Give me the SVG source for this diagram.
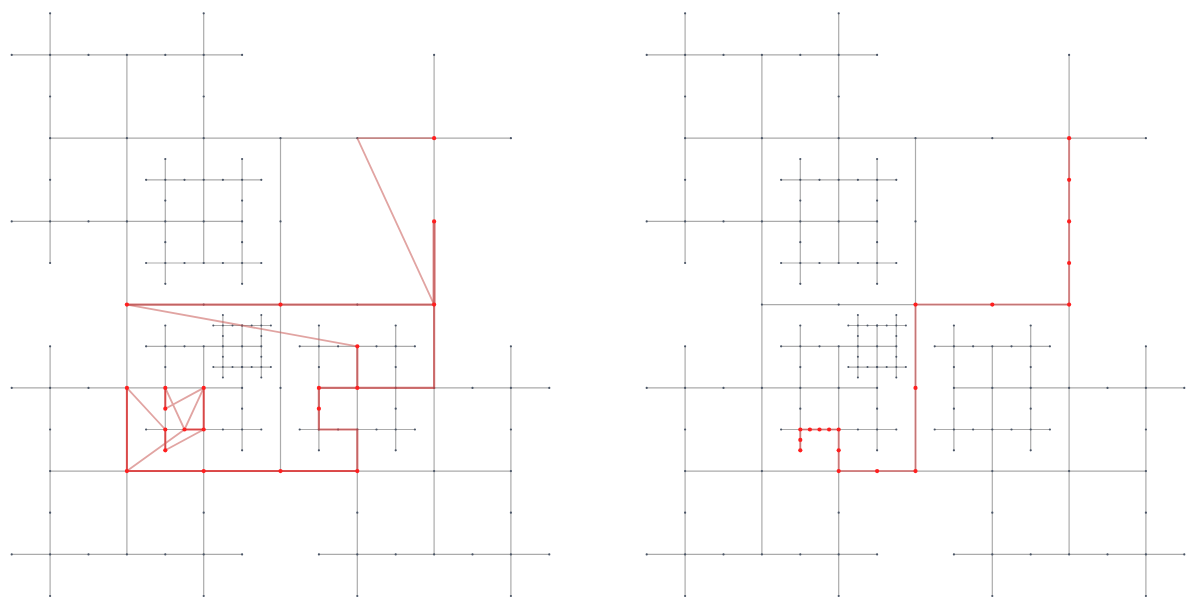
<svg xmlns="http://www.w3.org/2000/svg" xmlns:xlink="http://www.w3.org/1999/xlink" width="1193" height="606" viewBox="0 0 1193 606">
<style>
.e{stroke:#ababab;stroke-width:1.2;fill:none}
.n circle{fill:#4a5566}
.rl{fill:none;stroke:#c95a55;stroke-opacity:.55;stroke-width:1.8}
.rm{fill:none;stroke:#cc4444;stroke-opacity:.7;stroke-width:2.2}
.rb{fill:none;stroke:#e02a2a;stroke-opacity:.8;stroke-width:2}
.rr{fill:none;stroke:#d84a4a;stroke-opacity:.55;stroke-width:2}
.rn circle{fill:#ff1f1f}
</style>
<defs>
<g id="mesh">
<g id="mesh-connectors" class="e">
<path d="M126.9 54.9V554.4M434.1 54.9V554.4M50.1 138.2H510.9M50.1 471.1H510.9M280.5 138.2V471.1M126.9 304.6H434.1"/>
<path d="M50.1 13.3V263M203.7 13.3V263M11.7 54.9H242.1M11.7 221.4H242.1"/>
<path d="M165.3 159V283.8M242.1 159V283.8M146.1 179.8H261.3M146.1 263H261.3"/>
<path d="M50.1 346.3V596M203.7 346.3V596M11.7 387.9H242.1M11.7 554.4H242.1"/>
<path d="M165.3 325.5V450.3M242.1 325.5V450.3M146.1 346.3H261.3M146.1 429.5H261.3"/>
<path d="M222.9 315V377.5M261.3 315V377.5M213.3 325.5H270.9M213.3 367.1H270.9"/>
<path d="M357.3 346.3V596M510.9 346.3V596M318.9 387.9H549.3M318.9 554.4H549.3"/>
<path d="M318.9 325.5V450.3M395.7 325.5V450.3M299.7 346.3H414.9M299.7 429.5H414.9"/>
</g>
<g id="mesh-nodes" class="n">
<g id="n-top">
<circle cx="126.9" cy="54.9" r="1.1"/><circle cx="126.9" cy="138.2" r="1.1"/><circle cx="126.9" cy="221.4" r="1.1"/><circle cx="126.9" cy="304.6" r="1.1"/><circle cx="126.9" cy="387.9" r="1.1"/><circle cx="126.9" cy="471.1" r="1.1"/><circle cx="126.9" cy="554.4" r="1.1"/>
<circle cx="434.1" cy="54.9" r="1.1"/><circle cx="434.1" cy="138.2" r="1.1"/><circle cx="434.1" cy="221.4" r="1.1"/><circle cx="434.1" cy="304.6" r="1.1"/><circle cx="434.1" cy="387.9" r="1.1"/><circle cx="434.1" cy="471.1" r="1.1"/><circle cx="434.1" cy="554.4" r="1.1"/>
<circle cx="50.1" cy="138.2" r="1.1"/><circle cx="203.7" cy="138.2" r="1.1"/><circle cx="280.5" cy="138.2" r="1.1"/><circle cx="357.3" cy="138.2" r="1.1"/><circle cx="510.9" cy="138.2" r="1.1"/>
<circle cx="50.1" cy="471.1" r="1.1"/><circle cx="203.7" cy="471.1" r="1.1"/><circle cx="280.5" cy="471.1" r="1.1"/><circle cx="357.3" cy="471.1" r="1.1"/><circle cx="510.9" cy="471.1" r="1.1"/>
<circle cx="280.5" cy="221.4" r="1.1"/><circle cx="280.5" cy="304.6" r="1.1"/><circle cx="280.5" cy="387.9" r="1.1"/>
<circle cx="203.7" cy="304.6" r="1.1"/><circle cx="357.3" cy="304.6" r="1.1"/>
</g>
<g id="n-tl2">
<circle cx="50.1" cy="13.3" r="1.1"/><circle cx="50.1" cy="54.9" r="1.1"/><circle cx="50.1" cy="96.5" r="1.1"/><circle cx="50.1" cy="179.8" r="1.1"/><circle cx="50.1" cy="221.4" r="1.1"/><circle cx="50.1" cy="263" r="1.1"/>
<circle cx="203.7" cy="13.3" r="1.1"/><circle cx="203.7" cy="54.9" r="1.1"/><circle cx="203.7" cy="96.5" r="1.1"/><circle cx="203.7" cy="179.8" r="1.1"/><circle cx="203.7" cy="221.4" r="1.1"/><circle cx="203.7" cy="263" r="1.1"/>
<circle cx="11.7" cy="54.9" r="1.1"/><circle cx="88.5" cy="54.9" r="1.1"/><circle cx="165.3" cy="54.9" r="1.1"/><circle cx="242.1" cy="54.9" r="1.1"/>
<circle cx="11.7" cy="221.4" r="1.1"/><circle cx="88.5" cy="221.4" r="1.1"/><circle cx="165.3" cy="221.4" r="1.1"/><circle cx="242.1" cy="221.4" r="1.1"/>
</g>
<g id="n-tl1">
<circle cx="165.3" cy="159" r="1.1"/><circle cx="165.3" cy="179.8" r="1.1"/><circle cx="165.3" cy="200.6" r="1.1"/><circle cx="165.3" cy="242.2" r="1.1"/><circle cx="165.3" cy="263" r="1.1"/><circle cx="165.3" cy="283.8" r="1.1"/>
<circle cx="242.1" cy="159" r="1.1"/><circle cx="242.1" cy="179.8" r="1.1"/><circle cx="242.1" cy="200.6" r="1.1"/><circle cx="242.1" cy="242.2" r="1.1"/><circle cx="242.1" cy="263" r="1.1"/><circle cx="242.1" cy="283.8" r="1.1"/>
<circle cx="146.1" cy="179.8" r="1.1"/><circle cx="184.5" cy="179.8" r="1.1"/><circle cx="222.9" cy="179.8" r="1.1"/><circle cx="261.3" cy="179.8" r="1.1"/>
<circle cx="146.1" cy="263" r="1.1"/><circle cx="184.5" cy="263" r="1.1"/><circle cx="222.9" cy="263" r="1.1"/><circle cx="261.3" cy="263" r="1.1"/>
</g>
<g id="n-bl2">
<circle cx="50.1" cy="346.3" r="1.1"/><circle cx="50.1" cy="387.9" r="1.1"/><circle cx="50.1" cy="429.5" r="1.1"/><circle cx="50.1" cy="512.7" r="1.1"/><circle cx="50.1" cy="554.4" r="1.1"/><circle cx="50.1" cy="596" r="1.1"/>
<circle cx="203.7" cy="346.3" r="1.1"/><circle cx="203.7" cy="387.9" r="1.1"/><circle cx="203.7" cy="429.5" r="1.1"/><circle cx="203.7" cy="512.7" r="1.1"/><circle cx="203.7" cy="554.4" r="1.1"/><circle cx="203.7" cy="596" r="1.1"/>
<circle cx="11.7" cy="387.9" r="1.1"/><circle cx="88.5" cy="387.9" r="1.1"/><circle cx="165.3" cy="387.9" r="1.1"/><circle cx="242.1" cy="387.9" r="1.1"/>
<circle cx="11.7" cy="554.4" r="1.1"/><circle cx="88.5" cy="554.4" r="1.1"/><circle cx="165.3" cy="554.4" r="1.1"/><circle cx="242.1" cy="554.4" r="1.1"/>
</g>
<g id="n-bl1">
<circle cx="165.3" cy="325.5" r="1.1"/><circle cx="165.3" cy="346.3" r="1.1"/><circle cx="165.3" cy="367.1" r="1.1"/><circle cx="165.3" cy="408.7" r="1.1"/><circle cx="165.3" cy="429.5" r="1.1"/><circle cx="165.3" cy="450.3" r="1.1"/>
<circle cx="242.1" cy="325.5" r="1.1"/><circle cx="242.1" cy="346.3" r="1.1"/><circle cx="242.1" cy="367.1" r="1.1"/><circle cx="242.1" cy="408.7" r="1.1"/><circle cx="242.1" cy="429.5" r="1.1"/><circle cx="242.1" cy="450.3" r="1.1"/>
<circle cx="146.1" cy="346.3" r="1.1"/><circle cx="184.5" cy="346.3" r="1.1"/><circle cx="222.9" cy="346.3" r="1.1"/><circle cx="261.3" cy="346.3" r="1.1"/>
<circle cx="146.1" cy="429.5" r="1.1"/><circle cx="184.5" cy="429.5" r="1.1"/><circle cx="222.9" cy="429.5" r="1.1"/><circle cx="261.3" cy="429.5" r="1.1"/>
</g>
<g id="n-bl05">
<circle cx="222.9" cy="315" r="1"/><circle cx="222.9" cy="325.5" r="1"/><circle cx="222.9" cy="335.9" r="1"/><circle cx="222.9" cy="356.7" r="1"/><circle cx="222.9" cy="367.1" r="1"/><circle cx="222.9" cy="377.5" r="1"/>
<circle cx="261.3" cy="315" r="1"/><circle cx="261.3" cy="325.5" r="1"/><circle cx="261.3" cy="335.9" r="1"/><circle cx="261.3" cy="356.7" r="1"/><circle cx="261.3" cy="367.1" r="1"/><circle cx="261.3" cy="377.5" r="1"/>
<circle cx="213.3" cy="325.5" r="1"/><circle cx="232.5" cy="325.5" r="1"/><circle cx="242.1" cy="325.5" r="1"/><circle cx="251.7" cy="325.5" r="1"/><circle cx="270.9" cy="325.5" r="1"/>
<circle cx="213.3" cy="367.1" r="1"/><circle cx="232.5" cy="367.1" r="1"/><circle cx="242.1" cy="367.1" r="1"/><circle cx="251.7" cy="367.1" r="1"/><circle cx="270.9" cy="367.1" r="1"/>
</g>
<g id="n-br2">
<circle cx="357.3" cy="346.3" r="1.1"/><circle cx="357.3" cy="387.9" r="1.1"/><circle cx="357.3" cy="429.5" r="1.1"/><circle cx="357.3" cy="512.7" r="1.1"/><circle cx="357.3" cy="554.4" r="1.1"/><circle cx="357.3" cy="596" r="1.1"/>
<circle cx="510.9" cy="346.3" r="1.1"/><circle cx="510.9" cy="387.9" r="1.1"/><circle cx="510.9" cy="429.5" r="1.1"/><circle cx="510.9" cy="512.7" r="1.1"/><circle cx="510.9" cy="554.4" r="1.1"/><circle cx="510.9" cy="596" r="1.1"/>
<circle cx="318.9" cy="387.9" r="1.1"/><circle cx="395.7" cy="387.9" r="1.1"/><circle cx="472.5" cy="387.9" r="1.1"/><circle cx="549.3" cy="387.9" r="1.1"/>
<circle cx="318.9" cy="554.4" r="1.1"/><circle cx="395.7" cy="554.4" r="1.1"/><circle cx="472.5" cy="554.4" r="1.1"/><circle cx="549.3" cy="554.4" r="1.1"/>
</g>
<g id="n-br1">
<circle cx="318.9" cy="325.5" r="1.1"/><circle cx="318.9" cy="346.3" r="1.1"/><circle cx="318.9" cy="367.1" r="1.1"/><circle cx="318.9" cy="408.7" r="1.1"/><circle cx="318.9" cy="429.5" r="1.1"/><circle cx="318.9" cy="450.3" r="1.1"/>
<circle cx="395.7" cy="325.5" r="1.1"/><circle cx="395.7" cy="346.3" r="1.1"/><circle cx="395.7" cy="367.1" r="1.1"/><circle cx="395.7" cy="408.7" r="1.1"/><circle cx="395.7" cy="429.5" r="1.1"/><circle cx="395.7" cy="450.3" r="1.1"/>
<circle cx="299.7" cy="346.3" r="1.1"/><circle cx="338.1" cy="346.3" r="1.1"/><circle cx="376.5" cy="346.3" r="1.1"/><circle cx="414.9" cy="346.3" r="1.1"/>
<circle cx="299.7" cy="429.5" r="1.1"/><circle cx="338.1" cy="429.5" r="1.1"/><circle cx="376.5" cy="429.5" r="1.1"/><circle cx="414.9" cy="429.5" r="1.1"/>
</g>
</g>
</g>
</defs>
<rect width="1193" height="606" fill="#ffffff"/>
<g id="left-panel">
<use href="#mesh" xlink:href="#mesh"/>
<g id="left-path-connectors">
<path class="rl" d="M357.3 138.2H434.1M357.3 138.2L434.1 304.6M126.9 304.6L357.3 346.3"/>
<path class="rm" d="M126.9 304.6H434.1M434.1 304.6V387.9H318.9V429.5H357.3V471.1M357.3 346.3V387.9"/>
<path class="rm" style="stroke-width:3" d="M434.1 221.4V304.6"/>
<path class="rb" d="M126.9 471.1H357.3M126.9 387.9V471.1M203.7 387.9V429.5H184.5M165.3 387.9V408.7M165.3 429.5V450.3"/>
<path class="rl" d="M126.9 387.9L165.3 429.5M165.3 387.9L184.5 429.5M165.3 408.7L203.7 387.9M184.5 429.5L203.7 387.9M165.3 450.3L203.7 429.5M126.9 471.1L184.5 429.5"/>
</g>
<g id="left-path-nodes" class="rn">
<circle cx="434.1" cy="138.2" r="2.1"/><circle cx="434.1" cy="221.4" r="2.1"/><circle cx="434.1" cy="304.6" r="2.1"/><circle cx="280.5" cy="304.6" r="2.1"/><circle cx="126.9" cy="304.6" r="2.1"/>
<circle cx="357.3" cy="346.3" r="2.1"/><circle cx="357.3" cy="387.9" r="2.1"/><circle cx="318.9" cy="387.9" r="2.1"/><circle cx="318.9" cy="408.7" r="2.1"/>
<circle cx="357.3" cy="471.1" r="2.1"/><circle cx="280.5" cy="471.1" r="2.1"/><circle cx="203.7" cy="471.1" r="2.1"/><circle cx="126.9" cy="471.1" r="2.1"/>
<circle cx="126.9" cy="387.9" r="2.1"/><circle cx="165.3" cy="387.9" r="2.1"/><circle cx="203.7" cy="387.9" r="2.1"/><circle cx="165.3" cy="408.7" r="2.1"/>
<circle cx="165.3" cy="429.5" r="2.1"/><circle cx="184.5" cy="429.5" r="2.1"/><circle cx="203.7" cy="429.5" r="2.1"/><circle cx="165.3" cy="450.3" r="2.1"/>
</g>
</g>
<g id="right-panel">
<use href="#mesh" xlink:href="#mesh" x="635"/>
<g id="right-path-connectors">
<path class="rr" d="M1069.1 138.2V304.6H915.5V471.1H838.7V429.5H800.3V450.3"/>
</g>
<g id="right-path-nodes" class="rn">
<circle cx="1069.1" cy="138.2" r="2.1"/><circle cx="1069.1" cy="179.8" r="2.1"/><circle cx="1069.1" cy="221.4" r="2.1"/><circle cx="1069.1" cy="263" r="2.1"/><circle cx="1069.1" cy="304.6" r="2.1"/>
<circle cx="992.3" cy="304.6" r="2.1"/><circle cx="915.5" cy="304.6" r="2.1"/><circle cx="915.5" cy="387.9" r="2.1"/><circle cx="915.5" cy="471.1" r="2.1"/>
<circle cx="877.1" cy="471.1" r="2.1"/><circle cx="838.7" cy="471.1" r="2.1"/><circle cx="838.7" cy="450.3" r="2.1"/><circle cx="838.7" cy="429.5" r="2.1"/>
<circle cx="829.1" cy="429.5" r="2.1"/><circle cx="819.5" cy="429.5" r="2.1"/><circle cx="809.9" cy="429.5" r="2.1"/><circle cx="800.3" cy="429.5" r="2.1"/>
<circle cx="800.3" cy="439.9" r="2.1"/><circle cx="800.3" cy="450.3" r="2.1"/>
</g>
</g>
</svg>
